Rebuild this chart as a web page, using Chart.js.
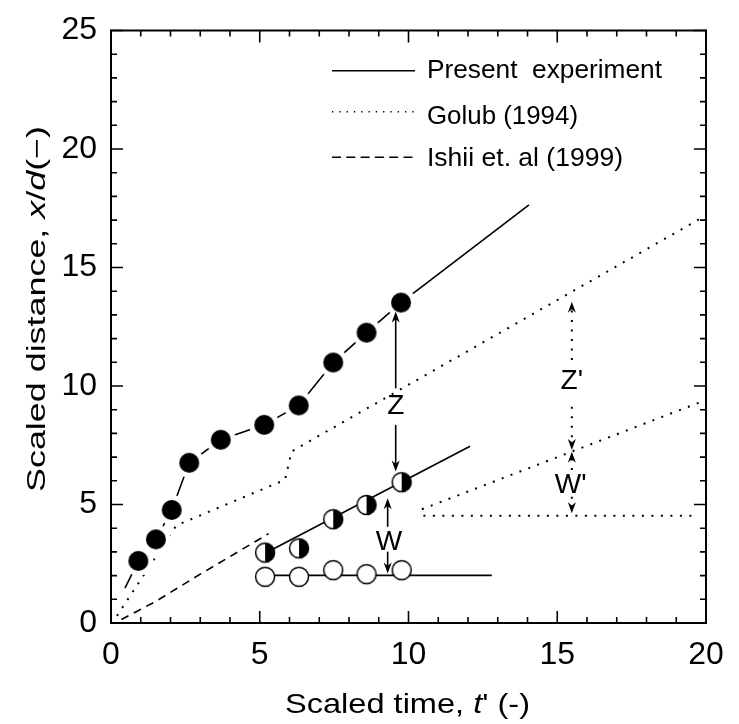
<!DOCTYPE html>
<html><head><meta charset="utf-8">
<script src="https://cdn.jsdelivr.net/npm/chart.js@4.4.1/dist/chart.umd.min.js"></script>
<style>html,body{margin:0;padding:0;background:#fff}#wrap{width:739px;height:724px;position:relative}</style>
</head><body><div id="wrap"><canvas id="c"></canvas></div>
<script>
// ---------------- data ----------------
const fullX = [0.92, 1.51, 2.04, 2.63, 3.69, 5.15, 6.31, 7.47, 8.59, 9.75];
const fullY = [2.62, 3.53, 4.77, 6.76, 7.73, 8.36, 9.18, 10.99, 12.25, 13.52];
const fullLineStart = [0.47, 1.47];
const fullLineEnd = [14.05, 17.64];

const halfX = [5.18, 6.32, 7.47, 8.59, 9.77];
const halfY = [2.97, 3.15, 4.38, 4.98, 5.94];
const halfLineX = [5.18, 12.07];
const halfLineY = [2.94, 7.46];

const openX = [5.18, 6.32, 7.47, 8.59, 9.77];
const openY = [1.95, 1.95, 2.23, 2.06, 2.23];
const openLineX = [5.18, 12.8];
const openLineY = [2.01, 2.01];

const golubX = [0.2, 2.2, 5.85, 6.07, 20];
const golubY = [0.3, 4.12, 6.04, 7.24, 17.2];
const golubLowX = [10.45, 20];
const golubLowY = [4.8, 9.41];
const golubFlatX = [10.5, 19.6];
const golubFlatY = [4.53, 4.53];

const ishiiX = [0.35, 1.5, 3.0, 5.3];
const ishiiY = [0.15, 0.91, 2.06, 3.77];

const seriesNames = ['Present  experiment', 'Golub (1994)', 'Ishii et. al (1999)'];

// annotation arrows: [x, yFrom, yTip]
const solidArrows = [[9.57, 9.90, 13.14], [9.57, 8.36, 6.39], [9.30, 4.06, 5.26], [9.30, 3.01, 2.09]];
const dottedArrows = [[15.49, 11.10, 13.56], [15.49, 9.12, 7.30], [15.49, 6.46, 7.23], [15.49, 5.33, 4.63]];
const arrowLabels = [['Z', 9.57, 9.25], ['W', 9.34, 3.50], ["Z'", 15.49, 10.28], ["W'", 15.45, 5.90]];

const xMin = 0, xMax = 20, xStep = 5;
const yMin = 0, yMax = 25, yStep = 5;

// ---------------- helpers ----------------
const FONT = "'Liberation Sans', Arial, Helvetica, sans-serif";
const pts = (xs, ys) => xs.map((x, i) => ({x, y: ys[i]}));

function mkCanvas(size, draw) {
  const c = document.createElement('canvas');
  c.width = size; c.height = size;
  draw(c.getContext('2d'), size / 2);
  return c;
}
const filledImg = mkCanvas(32, (g, m) => {
  g.fillStyle = '#fff'; g.beginPath(); g.arc(m, m, 15, 0, Math.PI * 2); g.fill();
  g.fillStyle = '#000'; g.beginPath(); g.arc(m, m, 10, 0, Math.PI * 2); g.fill();
});
const halfImg = mkCanvas(24, (g, m) => {
  g.fillStyle = '#fff'; g.beginPath(); g.arc(m, m, 9.5, 0, Math.PI * 2); g.fill();
  g.fillStyle = '#000'; g.beginPath(); g.arc(m, m, 9.5, -Math.PI / 2, Math.PI / 2); g.closePath(); g.fill();
  g.strokeStyle = '#000'; g.lineWidth = 1.5; g.beginPath(); g.arc(m, m, 9.5, 0, Math.PI * 2); g.stroke();
});
const openImg = mkCanvas(24, (g, m) => {
  g.fillStyle = '#fff'; g.beginPath(); g.arc(m, m, 9.5, 0, Math.PI * 2); g.fill();
  g.strokeStyle = '#000'; g.lineWidth = 1.5; g.beginPath(); g.arc(m, m, 9.5, 0, Math.PI * 2); g.stroke();
});

// text with optional italic segments, scaled along its direction to a target length
function drawRich(ctx, segs, x, cy, size, target, opts = {}) {
  ctx.save();
  const widths = segs.map(s => { ctx.font = (s.i ? 'italic ' : '') + size + 'px ' + FONT; return ctx.measureText(s.t).width; });
  const W = widths.reduce((a, b) => a + b, 0);
  const sx = target ? target / W : 1;
  ctx.translate(x, cy);
  if (opts.rotate) ctx.rotate(-Math.PI / 2);
  ctx.scale(sx, 1);
  let cx = opts.align === 'left' ? 0 : -W / 2;
  ctx.fillStyle = '#000';
  ctx.textBaseline = 'alphabetic';
  ctx.textAlign = 'left';
  const base = size * 0.358;
  segs.forEach((s, k) => {
    ctx.font = (s.i ? 'italic ' : '') + size + 'px ' + FONT;
    ctx.fillText(s.t, cx, base);
    cx += widths[k];
  });
  ctx.restore();
}

function arrow(ctx, x, y0, y1) {
  const dir = y1 < y0 ? -1 : 1;
  const L = 11, H = 4;
  ctx.beginPath(); ctx.moveTo(x, y0); ctx.lineTo(x, y1 - dir * L * 0.6); ctx.stroke();
  ctx.save(); ctx.setLineDash([]);
  ctx.beginPath(); ctx.moveTo(x, y1); ctx.lineTo(x - H, y1 - dir * L); ctx.lineTo(x, y1 - dir * L * 0.7); ctx.lineTo(x + H, y1 - dir * L); ctx.closePath(); ctx.fill();
  ctx.restore();
}

const framePlugin = {
  id: 'frame',
  afterDatasetsDraw(chart) {
    const ctx = chart.ctx, xs = chart.scales.x, ys = chart.scales.y;
    const {left, right, top, bottom} = chart.chartArea;
    ctx.save();
    ctx.strokeStyle = '#000'; ctx.fillStyle = '#000';
    // annotations
    ctx.lineWidth = 1.6;
    solidArrows.forEach(a => arrow(ctx, xs.getPixelForValue(a[0]), ys.getPixelForValue(a[1]), ys.getPixelForValue(a[2])));
    ctx.lineWidth = 2; ctx.setLineDash([2, 7.5]);
    dottedArrows.forEach(a => arrow(ctx, xs.getPixelForValue(a[0]), ys.getPixelForValue(a[1]), ys.getPixelForValue(a[2])));
    ctx.setLineDash([]);
    arrowLabels.forEach(l => drawRich(ctx, [{t: l[0]}], xs.getPixelForValue(l[1]), ys.getPixelForValue(l[2]), 28, 0));
    // frame
    ctx.lineWidth = 2;
    ctx.strokeRect(left, top, right - left, bottom - top);
    ctx.lineWidth = 1.6;
    ctx.beginPath();
    for (let v = xMin; v <= xMax; v++) {
      const p = xs.getPixelForValue(v), len = v % xStep === 0 ? 12 : 6;
      ctx.moveTo(p, bottom); ctx.lineTo(p, bottom - len);
      ctx.moveTo(p, top); ctx.lineTo(p, top + len);
    }
    for (let v = yMin; v <= yMax; v++) {
      const p = ys.getPixelForValue(v), len = v % yStep === 0 ? 12 : 6;
      ctx.moveTo(left, p); ctx.lineTo(left + len, p);
      ctx.moveTo(right, p); ctx.lineTo(right - len, p);
    }
    ctx.stroke();
    // legend
    const rows = [[70.7, 69.5, [], 1.6, 235], [111.7, 115, [1.3, 6], 1.6, 151], [157.3, 157, [9, 5.3], 1.6, 196]];
    rows.forEach((r, i) => {
      ctx.save(); ctx.lineWidth = r[3]; ctx.setLineDash(r[2]);
      ctx.beginPath(); ctx.moveTo(332, r[0]); ctx.lineTo(415, r[0]); ctx.stroke(); ctx.restore();
      drawRich(ctx, [{t: seriesNames[i]}], 427, r[1], 25, r[4], {align: 'left'});
    });
    // axis titles
    drawRich(ctx, [{t: 'Scaled time, '}, {t: 't', i: true}, {t: "' (-)"}], 407.5, 703, 28, 245);
    drawRich(ctx, [{t: 'Scaled distance, '}, {t: 'x', i: true}, {t: '/'}, {t: 'd', i: true}, {t: '(\u2212)'}], 36, 309, 25, 366, {rotate: true});
    ctx.restore();
  }
};

const lineDS = (data, dash, width) => ({
  data, showLine: true, borderColor: '#000', borderWidth: width, borderDash: dash,
  pointRadius: 0, pointHoverRadius: 0, tension: 0, fill: false, borderCapStyle: 'butt'
});
const markDS = (data, img) => ({
  data, showLine: false, pointStyle: img, pointRadius: 10, pointHoverRadius: 10,
  backgroundColor: '#000', borderColor: '#000'
});

new Chart(document.getElementById('c'), {
  type: 'scatter',
  data: {
    datasets: [
      markDS(pts(fullX, fullY), filledImg),
      markDS(pts(halfX, halfY), halfImg),
      markDS(pts(openX, openY), openImg),
      lineDS([{x: fullLineStart[0], y: fullLineStart[1]}, ...pts(fullX, fullY), {x: fullLineEnd[0], y: fullLineEnd[1]}], [], 1.6),
      lineDS(pts(halfLineX, halfLineY), [], 1.6),
      lineDS(pts(openLineX, openLineY), [], 1.6),
      lineDS(pts(golubX, golubY), [2, 7.5], 2),
      lineDS(pts(golubLowX, golubLowY), [2, 7.5], 2),
      lineDS(pts(golubFlatX, golubFlatY), [2, 7.5], 2),
      lineDS(pts(ishiiX, ishiiY), [8, 6], 1.6)
    ]
  },
  options: {
    responsive: true, maintainAspectRatio: false, animation: false,
    layout: {padding: {top: 30.5, right: 33, left: 0, bottom: 0}},
    plugins: {legend: {display: false}, tooltip: {enabled: false}},
    events: [],
    scales: {
      x: {
        type: 'linear', min: xMin, max: xMax,
        ticks: {stepSize: xStep, color: '#000', font: {family: FONT, size: 32}, padding: 13, maxRotation: 0},
        grid: {display: false, drawTicks: false}, border: {display: false},
        afterFit(s) { s.height = 101; }
      },
      y: {
        type: 'linear', min: yMin, max: yMax,
        ticks: {stepSize: yStep, color: '#000', font: {family: FONT, size: 32, lineHeight: 1.0}, padding: 14},
        grid: {display: false, drawTicks: false}, border: {display: false},
        afterFit(s) { s.width = 111; }
      }
    }
  },
  plugins: [framePlugin]
});
</script>
</body></html>
